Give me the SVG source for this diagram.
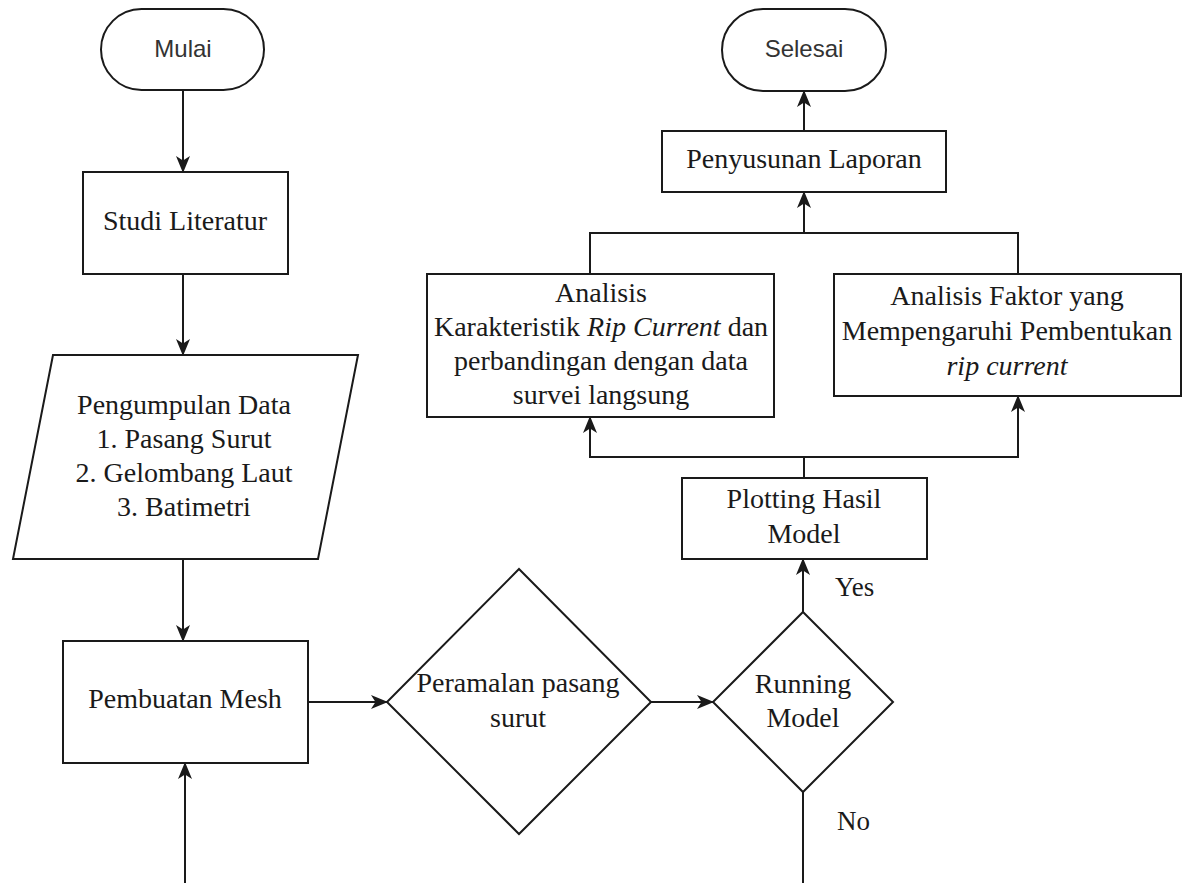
<svg xmlns="http://www.w3.org/2000/svg" width="1184" height="883" viewBox="0 0 1184 883">
<defs>
<style>
.sh{fill:#fff;stroke:#1a1a1a;stroke-width:2}
.ln{fill:none;stroke:#1a1a1a;stroke-width:2}
.ar{marker-end:url(#arr)}
.t{font-family:"Liberation Serif","Times New Roman",serif;font-size:28px;fill:#1a1a1a;text-anchor:middle}
.s{font-family:"Liberation Sans",Arial,sans-serif;font-size:24px;fill:#333;text-anchor:middle}
.l{font-family:"Liberation Serif","Times New Roman",serif;font-size:27px;fill:#1a1a1a}
</style>
<marker id="arr" markerUnits="userSpaceOnUse" markerWidth="17" markerHeight="16" viewBox="0 0 17 16" refX="16" refY="8" orient="auto">
<path d="M0,1 L17,8 L0,15 L4.5,8 Z" fill="#1a1a1a"/>
</marker>
</defs>
<rect width="1184" height="883" fill="#fff"/>
<g id="connectors">
<line class="ln ar" x1="183" y1="90" x2="183" y2="172"/>
<line class="ln ar" x1="183" y1="274" x2="183" y2="355"/>
<line class="ln ar" x1="183" y1="559" x2="183" y2="641"/>
<line class="ln ar" x1="185" y1="883" x2="185" y2="763"/>
<line class="ln ar" x1="308" y1="702" x2="387" y2="702"/>
<line class="ln ar" x1="651" y1="702" x2="713" y2="702"/>
<line class="ln" x1="803" y1="792" x2="803" y2="883"/>
<line class="ln ar" x1="803" y1="612" x2="803" y2="559"/>
<polyline class="ln" points="804,478 804,457"/>
<polyline class="ln ar" points="804,457 590,457 590,417"/>
<polyline class="ln ar" points="804,457 1018,457 1018,396"/>
<polyline class="ln" points="590,274 590,233 1018,233 1018,274"/>
<line class="ln ar" x1="804" y1="233" x2="804" y2="192"/>
<line class="ln ar" x1="804" y1="131" x2="804" y2="91"/>
<text class="l" x="835" y="596">Yes</text>
<text class="l" x="837" y="830">No</text>
</g>
<g id="mulai">
<rect class="sh" x="101" y="9" width="163" height="81" rx="40.5"/>
<text class="s" x="183" y="57">Mulai</text>
</g>
<g id="studi">
<rect class="sh" x="83" y="172" width="205" height="102"/>
<text class="t" x="185" y="230">Studi Literatur</text>
</g>
<g id="pengumpulan">
<polygon class="sh" points="53,355 358,355 318,559 13,559"/>
<text class="t" x="184" y="414">Pengumpulan Data</text>
<text class="t" x="184" y="448">1. Pasang Surut</text>
<text class="t" x="184" y="482">2. Gelombang Laut</text>
<text class="t" x="184" y="516">3. Batimetri</text>
</g>
<g id="mesh">
<rect class="sh" x="63" y="641" width="245" height="122"/>
<text class="t" x="185" y="708">Pembuatan Mesh</text>
</g>
<g id="peramalan">
<polygon class="sh" points="519,569 651,702 519,834 387,702"/>
<text class="t" x="518" y="692">Peramalan pasang</text>
<text class="t" x="518" y="727">surut</text>
</g>
<g id="running">
<polygon class="sh" points="803,612 893,702 803,792 713,702"/>
<text class="t" x="803" y="693">Running</text>
<text class="t" x="803" y="727">Model</text>
</g>
<g id="plotting">
<rect class="sh" x="682" y="478" width="245" height="81"/>
<text class="t" x="804" y="508">Plotting Hasil</text>
<text class="t" x="804" y="543">Model</text>
</g>
<g id="analisis-karakteristik">
<rect class="sh" x="427" y="274" width="347" height="143"/>
<text class="t" x="601" y="302">Analisis</text>
<text class="t" x="601" y="336">Karakteristik <tspan font-style="italic">Rip Current</tspan> dan</text>
<text class="t" x="601" y="370">perbandingan dengan data</text>
<text class="t" x="601" y="404">survei langsung</text>
</g>
<g id="analisis-faktor">
<rect class="sh" x="834" y="274" width="347" height="122"/>
<text class="t" x="1007" y="305">Analisis Faktor yang</text>
<text class="t" x="1007" y="340">Mempengaruhi Pembentukan</text>
<text class="t" x="1007" y="375" font-style="italic">rip current</text>
</g>
<g id="penyusunan">
<rect class="sh" x="662" y="131" width="284" height="61"/>
<text class="t" x="804" y="168">Penyusunan Laporan</text>
</g>
<g id="selesai">
<rect class="sh" x="722" y="9" width="164" height="82" rx="41"/>
<text class="s" x="804" y="57">Selesai</text>
</g>
</svg>
